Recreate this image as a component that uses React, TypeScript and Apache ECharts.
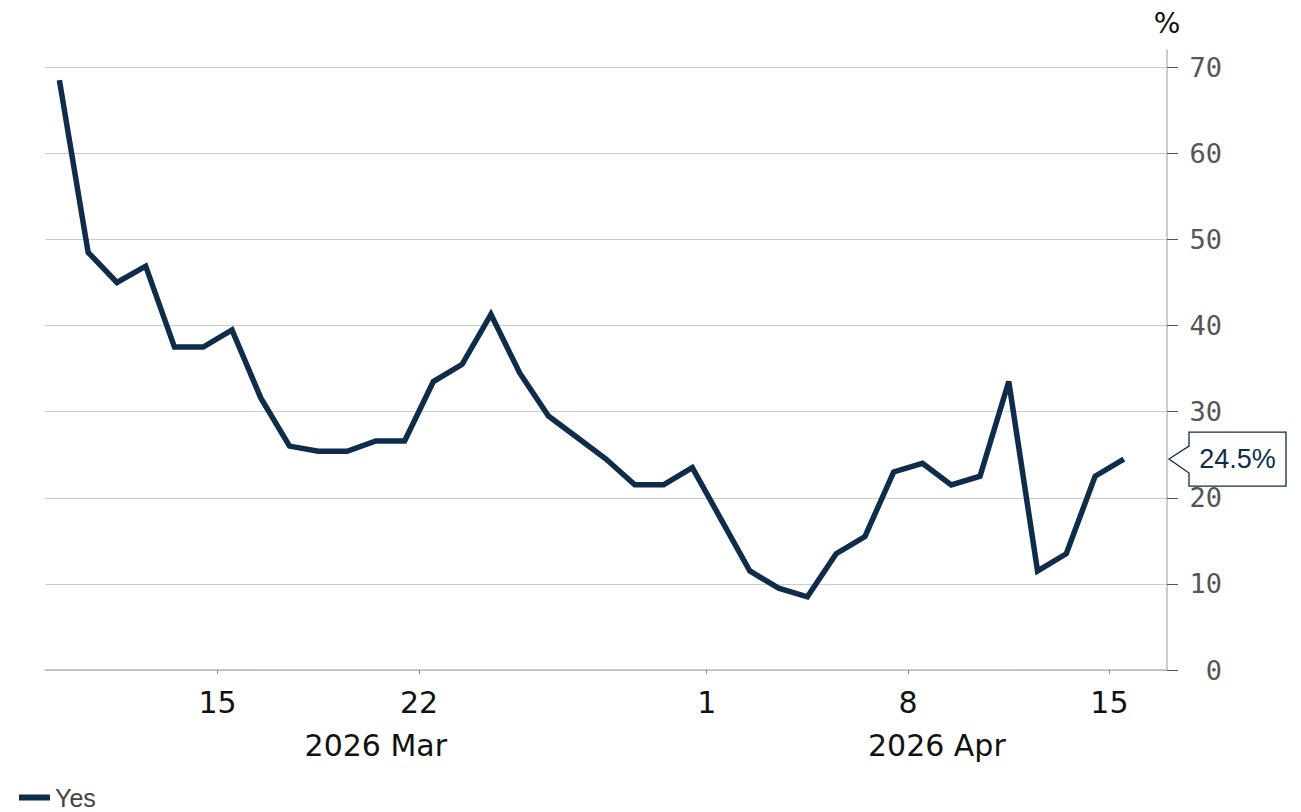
import React, { useEffect, useRef } from 'react';
import * as echarts from 'echarts';

const dates = [
  '2026-03-09 12:00', '2026-03-10 12:00', '2026-03-11 12:00', '2026-03-12 12:00', '2026-03-13 12:00',
  '2026-03-14 12:00', '2026-03-15 12:00', '2026-03-16 12:00', '2026-03-17 12:00', '2026-03-18 12:00',
  '2026-03-19 12:00', '2026-03-20 12:00', '2026-03-21 12:00', '2026-03-22 12:00', '2026-03-23 12:00',
  '2026-03-24 12:00', '2026-03-25 12:00', '2026-03-26 12:00', '2026-03-27 12:00', '2026-03-28 12:00',
  '2026-03-29 12:00', '2026-03-30 12:00', '2026-03-31 12:00', '2026-04-01 12:00', '2026-04-02 12:00',
  '2026-04-03 12:00', '2026-04-04 12:00', '2026-04-05 12:00', '2026-04-06 12:00', '2026-04-07 12:00',
  '2026-04-08 12:00', '2026-04-09 12:00', '2026-04-10 12:00', '2026-04-11 12:00', '2026-04-12 12:00',
  '2026-04-13 12:00', '2026-04-14 12:00', '2026-04-15 12:00',
];

const yesValues = [
  68.5, 48.5, 45.0, 46.9, 37.5, 37.5, 39.5, 31.6, 26.0, 25.4,
  25.4, 26.6, 26.6, 33.5, 35.5, 41.3, 34.5, 29.5, 27.0, 24.5,
  21.5, 21.5, 23.5, 17.5, 11.5, 9.5, 8.5, 13.5, 15.5, 23.0,
  24.0, 21.5, 22.5, 33.5, 11.5, 13.5, 22.5, 24.5,
];

const seriesName = 'Yes';
const xTickDates = ['2026-03-15', '2026-03-22', '2026-04-01', '2026-04-08', '2026-04-15'];
const xMinDate = '2026-03-09';
const xMaxDate = '2026-04-17';
const monthNames = ['2026 Mar', '2026 Apr'];
const monthStarts = ['2026-03-09', '2026-04-01'];
const monthEnds = ['2026-04-01', '2026-04-17'];
const yTicks = [0, 10, 20, 30, 40, 50, 60, 70];
const yMax = 72;
const lastValue = 24.5;
const lastLabel = '24.5%';

const NAVY = '#0f2d4a';

function ts(s: string): number {
  const [d, t] = s.split(' ');
  const [y, m, dd] = d.split('-').map(Number);
  const [hh, mm] = t ? t.split(':').map(Number) : [0, 0];
  return new Date(y, m - 1, dd, hh, mm).getTime();
}

export default function App() {
  const ref = useRef<HTMLDivElement>(null);

  useEffect(() => {
    if (!ref.current) return;
    const chart = echarts.init(ref.current, undefined, { renderer: 'svg' });
    const tickTs = xTickDates.map(ts);

    chart.setOption({
      animation: false,
      grid: { left: 45, right: 134, top: 50, bottom: 142, containLabel: false },
      legend: {
        data: [seriesName],
        left: 14,
        top: 785,
        icon: 'rect',
        itemWidth: 31,
        itemHeight: 6,
        padding: [0, 5, 0, 5],
        textStyle: { fontSize: 25, lineHeight: 25, color: '#444', fontFamily: 'Liberation Sans' },
      },
      xAxis: {
        type: 'value',
        min: ts(xMinDate),
        max: ts(xMaxDate),
        axisLine: { show: true, onZero: false, lineStyle: { color: '#bbb', width: 1.5 } },
        axisTick: { show: true, length: 4, customValues: tickTs, lineStyle: { color: '#888' } },
        axisLabel: {
          customValues: tickTs,
          margin: 17,
          fontSize: 30,
          color: '#111',
          fontFamily: 'DejaVu Sans',
          formatter: (v: number) => String(new Date(v).getDate()),
        },
        splitLine: { show: false },
      },
      yAxis: {
        type: 'value',
        position: 'right',
        min: 0,
        max: yMax,
        name: '%',
        nameLocation: 'end',
        nameGap: 13,
        nameTextStyle: { fontSize: 28, color: '#111', fontFamily: 'DejaVu Sans' },
        axisLine: { show: true, lineStyle: { color: '#bbb', width: 1.5 } },
        axisTick: { show: true, length: 11, customValues: yTicks, lineStyle: { color: '#555' } },
        axisLabel: {
          customValues: yTicks,
          align: 'right',
          margin: 55,
          fontSize: 27,
          color: '#555',
          fontFamily: 'DejaVu Sans Mono',
        },
        splitLine: { show: true, lineStyle: { color: '#ccc', width: 1 } },
      },
      series: [
        {
          name: seriesName,
          type: 'line',
          data: dates.map((d, i) => [ts(d), yesValues[i]]),
          showSymbol: false,
          symbol: 'none',
          itemStyle: { color: NAVY },
          lineStyle: { color: NAVY, width: 5.5, join: 'miter', cap: 'butt' },
          z: 3,
        },
      ],
    });

    const graphics: any[] = [];
    monthNames.forEach((name, i) => {
      const a = chart.convertToPixel({ gridIndex: 0 }, [ts(monthStarts[i]), 0]) as number[];
      const b = chart.convertToPixel({ gridIndex: 0 }, [ts(monthEnds[i]), 0]) as number[];
      graphics.push({
        type: 'text',
        x: (a[0] + b[0]) / 2,
        y: a[1] + 75,
        style: {
          text: name,
          fontSize: 30,
          fill: '#111',
          fontFamily: 'DejaVu Sans',
          align: 'center',
          verticalAlign: 'middle',
        },
      });
    });

    const tip = chart.convertToPixel({ gridIndex: 0 }, [ts(xMaxDate), lastValue]) as number[];
    const tx = tip[0] + 2;
    const ty = tip[1];
    const bx = tx + 20;
    const bw = 97;
    graphics.push({
      type: 'polygon',
      shape: {
        points: [
          [tx, ty], [bx, ty - 13], [bx, ty - 27], [bx + bw, ty - 27],
          [bx + bw, ty + 27], [bx, ty + 27], [bx, ty + 14],
        ],
      },
      style: { fill: '#fff', stroke: NAVY, lineWidth: 1.3 },
      z: 10,
    });
    graphics.push({
      type: 'text',
      x: bx + bw / 2,
      y: ty,
      style: {
        text: lastLabel,
        fontSize: 27,
        fill: NAVY,
        fontFamily: 'Liberation Sans',
        align: 'center',
        verticalAlign: 'middle',
      },
      z: 11,
    });

    chart.setOption({ graphic: graphics });

    return () => chart.dispose();
  }, []);

  return (
    <div
      ref={ref}
      style={{ position: 'absolute', left: 0, top: 0, width: 1301, height: 812 }}
    />
  );
}
